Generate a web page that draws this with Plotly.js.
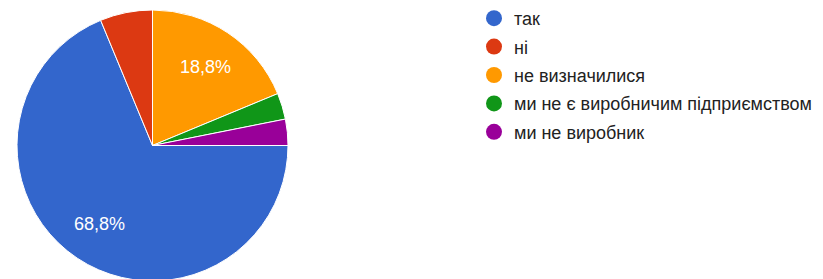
<!DOCTYPE html>
<html>
<head>
<meta charset="utf-8">
<script src="https://cdn.plot.ly/plotly-3.0.1.min.js"></script>
<style>
html,body{margin:0;padding:0;overflow:hidden;background:#fff;}
#chart{width:823px;height:282px;}
</style>
</head>
<body>
<div id="chart"></div>
<script>
const categories = ["так", "ні", "не визначилися", "ми не є виробничим підприємством", "ми не виробник"];
const counts = [22, 2, 6, 1, 1];
const colors = ["#3366cc", "#dc3912", "#ff9900", "#109618", "#990099"];
const shownLabels = [true, false, true, false, false];

const total = counts.reduce((a, b) => a + b, 0);
const texts = counts.map((c, i) => shownLabels[i] ? (c / total * 100).toFixed(1).replace('.', ',') + '%' : '');

const W = 823, H = 282;
const pieX0 = 17, pieX1 = 288, pieTop = 10, pieBottom = 281;
const rotationDeg = 90;
const labelRadiusFrac = 0.7;

const pie = {
  type: 'pie',
  labels: categories,
  values: counts,
  textinfo: 'none',
  sort: false,
  direction: 'clockwise',
  rotation: rotationDeg,
  marker: {colors: colors, line: {color: '#ffffff', width: 1}},
  domain: {x: [pieX0 / W, pieX1 / W], y: [(H - pieBottom) / H, (H - pieTop) / H]},
  showlegend: false,
  hoverinfo: 'none'
};

// percentage labels placed along each slice's mid-angle (Google-Charts style)
const cx = (pieX0 + pieX1) / 2, cy = (pieTop + pieBottom) / 2, r = (pieX1 - pieX0) / 2;
const annotations = [];
let cum = 0;
counts.forEach((c, i) => {
  const mid = rotationDeg + (cum + c / 2) / total * 360;
  cum += c;
  if (!texts[i]) return;
  const a = mid * Math.PI / 180;
  const px = cx + Math.sin(a) * r * labelRadiusFrac;
  const py = cy - Math.cos(a) * r * labelRadiusFrac;
  annotations.push({
    xref: 'paper', yref: 'paper', x: px / W, y: 1 - py / H,
    xanchor: 'center', yanchor: 'middle', showarrow: false,
    text: texts[i],
    font: {family: 'Liberation Sans, Arial, sans-serif', size: 18, color: '#ffffff'}
  });
});

const legendTraces = categories.map((c, i) => ({
  type: 'scatter',
  mode: 'markers',
  x: [null], y: [null],
  name: c,
  legendgroup: 'g' + i,
  marker: {color: colors[i], size: 17, symbol: 'circle'},
  showlegend: true,
  hoverinfo: 'none'
}));

const layout = {
  width: W,
  height: H,
  margin: {l: 0, r: 0, t: 0, b: 0},
  paper_bgcolor: '#ffffff',
  plot_bgcolor: '#ffffff',
  xaxis: {visible: false, domain: [0.9, 1]},
  yaxis: {visible: false, domain: [0.9, 1]},
  showlegend: true,
  annotations: annotations,
  legend: {
    x: 474 / W, y: 1, xanchor: 'left', yanchor: 'top',
    font: {family: 'Liberation Sans, Arial, sans-serif', size: 18, color: '#222222'},
    tracegroupgap: 2,
    itemclick: false, itemdoubleclick: false,
    bgcolor: 'rgba(0,0,0,0)'
  }
};

Plotly.newPlot('chart', [pie].concat(legendTraces), layout, {staticPlot: true, displayModeBar: false});
</script>
</body>
</html>
